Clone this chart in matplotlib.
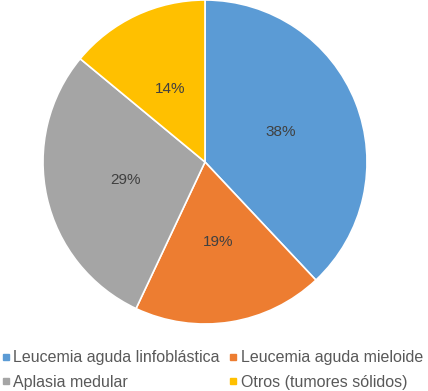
import matplotlib
matplotlib.use("Agg")
import matplotlib.pyplot as plt
from matplotlib.lines import Line2D

plt.rcParams['font.family'] = ['Liberation Sans', 'DejaVu Sans']

categorias = ['Leucemia aguda linfoblástica', 'Leucemia aguda mieloide',
              'Aplasia medular', 'Otros (tumores sólidos)']
valores = [38, 19, 29, 14]
colores = ['#5B9BD5', '#ED7D31', '#A5A5A5', '#FFC000']

fig = plt.figure(figsize=(4.28, 3.91), dpi=100)
ax = fig.add_axes([43 / 428, 1 - 324 / 391, 324 / 428, 324 / 391])

wedges, textos, pcts = ax.pie(valores, colors=colores, startangle=90, counterclock=False,
                              autopct='%1.0f%%', pctdistance=0.5,
                              wedgeprops=dict(edgecolor='white', linewidth=1.2),
                              textprops=dict(color='#404040', fontsize=11))
ax.set_aspect('equal')
ax.set_xlim(-1.0, 1.0)
ax.set_ylim(-1.0, 1.0)

handles = [Line2D([], [], marker='s', linestyle='', color=c, markersize=5) for c in colores]
# orden: fila 1 -> 0,1 ; fila 2 -> 2,3 (legend llena por columnas)
orden = [0, 2, 1, 3]
leg = fig.legend([handles[i] for i in orden], [categorias[i] for i in orden],
                 ncol=2, loc='lower left', bbox_to_anchor=(3 / 428, 1 / 391),
                 frameon=False, fontsize=11.5, handlelength=0.4, handletextpad=0.25,
                 columnspacing=0.65, labelspacing=0.62, borderaxespad=0, borderpad=0)
for t in leg.get_texts():
    t.set_color('#595959')

fig.savefig('out.png', dpi=100)
